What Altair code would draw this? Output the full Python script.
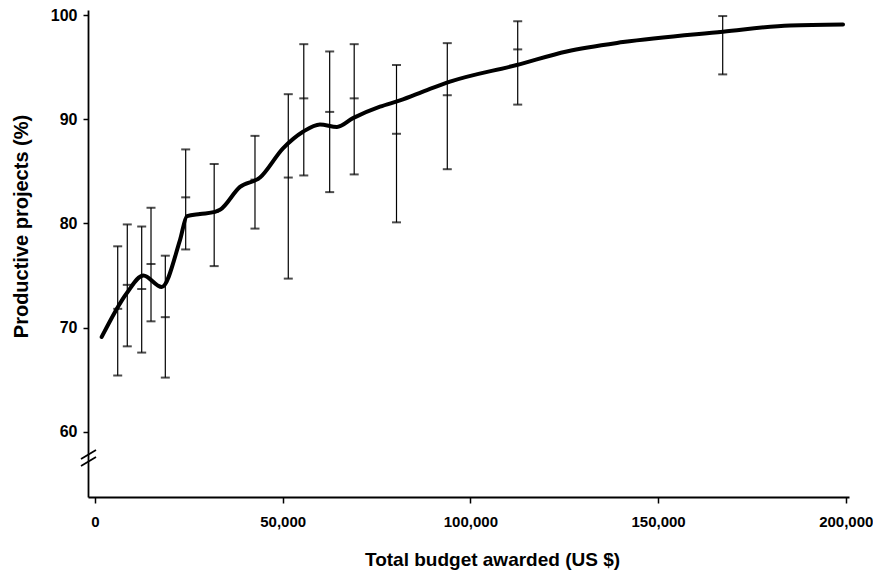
import altair as alt
import pandas as pd

# Smoothed curve (budget in US$, productive projects in %)
curve_x = [1785, 8445, 12870, 17770, 22640, 24510, 27970, 31970, 33300, 38630, 43960,
           50080, 55410, 59940, 64470, 68730, 75920, 81250, 88440, 94570, 112340,
           125660, 140660, 167300, 185150, 199270]
curve_y = [69.1, 73.3, 75.0, 73.9, 78.4, 80.7, 80.9, 81.1, 81.3, 83.5, 84.4,
           87.2, 88.8, 89.5, 89.25, 90.1, 91.2, 91.8, 92.8, 93.6, 95.2,
           96.5, 97.4, 98.4, 99.0, 99.1]

# Error bars: budget, low, mean, high
bar_x = [6050, 8600, 12440, 14920, 18730, 24160, 31750, 42620, 51490, 55620,
         62520, 69050, 80320, 93850, 112610, 167220]
bar_low = [65.4, 68.2, 67.6, 70.6, 65.2, 77.5, 75.9, 79.5, 74.7, 84.6,
           83.0, 84.7, 80.1, 85.2, 91.4, 94.3]
bar_mid = [71.8, 74.1, 73.7, 76.1, 71.0, 82.5, 81.1, 84.2, 84.4, 92.0,
           90.7, 92.0, 88.6, 92.3, 96.7, 98.4]
bar_high = [77.8, 79.9, 79.7, 81.5, 76.9, 87.1, 85.7, 88.4, 92.4, 97.2,
            96.5, 97.2, 95.2, 97.3, 99.4, 99.9]

curve = pd.DataFrame({"budget": curve_x, "pct": curve_y})
bars = pd.DataFrame({"budget": bar_x, "low": bar_low, "mid": bar_mid, "high": bar_high})

W, H = 761, 487
FONT = "Liberation Sans"

xs = alt.Scale(domain=[-1865, 200866], nice=False, zero=False)
ys = alt.Scale(domain=[53.74, 100.48], nice=False, zero=False)

xaxis = alt.Axis(values=[0, 50000, 100000, 150000, 200000], format=",d",
                 title="Total budget awarded (US $)", grid=False,
                 labelPadding=11, labelFontSize=15, tickSize=6,
                 titleFontSize=19, titleX=404, titleY=53,
                 titleAlign="center", titleBaseline="top")
yaxis = alt.Axis(values=[60, 70, 80, 90, 100], format="d",
                 title="Productive projects (%)", grid=False,
                 labelPadding=6, labelFontSize=16, tickSize=5,
                 titleFontSize=20, titleX=-67, titleY=216,
                 titleAlign="center", titleBaseline="middle", titleAngle=270)

base = alt.Chart(bars)

rules = base.mark_rule(color="black", strokeWidth=1.2).encode(
    x=alt.X("budget:Q", scale=xs, axis=xaxis),
    y=alt.Y("low:Q", scale=ys, axis=yaxis),
    y2="high:Q",
)
cap_lo = base.mark_tick(color="black", orient="horizontal", size=9, thickness=2).encode(
    x=alt.X("budget:Q", scale=xs), y=alt.Y("low:Q", scale=ys))
cap_hi = base.mark_tick(color="black", orient="horizontal", size=9, thickness=2).encode(
    x=alt.X("budget:Q", scale=xs), y=alt.Y("high:Q", scale=ys))
mid = base.mark_tick(color="black", orient="horizontal", size=9, thickness=2).encode(
    x=alt.X("budget:Q", scale=xs), y=alt.Y("mid:Q", scale=ys))

line = alt.Chart(curve).mark_line(color="black", strokeWidth=4, interpolate="monotone",
                                  strokeCap="round").encode(
    x=alt.X("budget:Q", scale=xs), y=alt.Y("pct:Q", scale=ys))

# axis break marks
brk1 = alt.Chart(pd.DataFrame({"a": [0]})).mark_rule(color="black", strokeWidth=1.8).encode(
    x=alt.value(-7), x2=alt.value(8), y=alt.value(449), y2=alt.value(440))
brk2 = alt.Chart(pd.DataFrame({"a": [0]})).mark_rule(color="black", strokeWidth=1.8).encode(
    x=alt.value(-7), x2=alt.value(8), y=alt.value(456), y2=alt.value(447))

chart = alt.layer(rules, cap_lo, cap_hi, mid, line, brk1, brk2).properties(
    width=W, height=H,
    autosize=alt.AutoSizeParams(type="none"),
    padding={"left": 80, "top": 2, "right": 24, "bottom": 78},
).configure(background="white").configure_view(stroke=None).configure_axis(
    domainColor="black", domainWidth=1.8, tickColor="black", tickWidth=1.5,
    labelFont=FONT, labelFontWeight="bold", labelColor="black",
    titleFont=FONT, titleFontWeight="bold", titleColor="black",
)

chart.save("out.html", embed_options={"renderer": "svg", "actions": False})
